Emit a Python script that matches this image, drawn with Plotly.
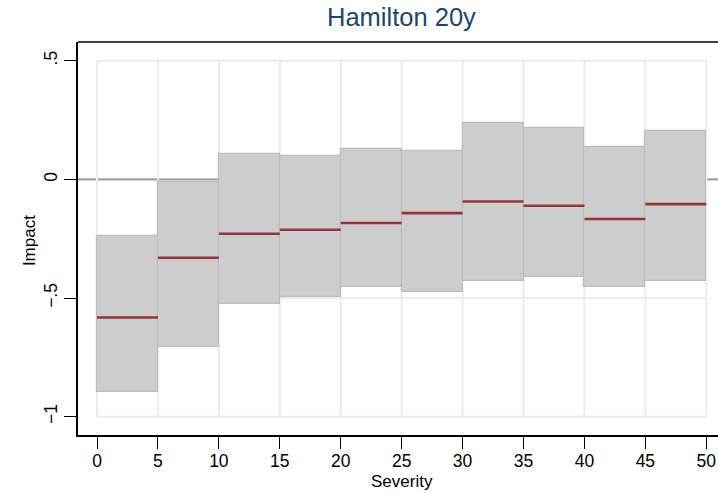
import plotly.graph_objects as go

# Severity bins (left edges, width 5) and impact estimates
bin_start = [0, 5, 10, 15, 20, 25, 30, 35, 40, 45]
bin_width = 5
lower = [-0.896, -0.708, -0.525, -0.496, -0.454, -0.473, -0.428, -0.412, -0.454, -0.428]
upper = [-0.239, -0.011, 0.108, 0.098, 0.129, 0.119, 0.236, 0.216, 0.138, 0.204]
median = [-0.582, -0.330, -0.229, -0.212, -0.184, -0.142, -0.093, -0.111, -0.167, -0.104]

x_ticks = [0, 5, 10, 15, 20, 25, 30, 35, 40, 45, 50]
y_ticks = [-1, -0.5, 0, 0.5]
y_ticktext = ["\u22121", "\u2212.5", "0", ".5"]

FONT = "Liberation Sans, Arial, sans-serif"

centers = [s + bin_width / 2 for s in bin_start]
heights = [u - l for u, l in zip(upper, lower)]

fig = go.Figure()

# interval boxes
fig.add_trace(go.Bar(
    x=centers, y=heights, base=lower, width=bin_width,
    marker=dict(color="#cdcdcd", line=dict(color="#bdbdbd", width=1.2)),
    hoverinfo="skip", showlegend=False,
))

# median segments
mx, my = [], []
for s, m in zip(bin_start, median):
    mx += [s, s + bin_width, None]
    my += [m, m, None]
fig.add_trace(go.Scatter(
    x=mx, y=my, mode="lines",
    line=dict(color="#983339", width=2.6),
    hoverinfo="skip", showlegend=False,
))

shapes = []
grid_style = dict(color="#ececec", width=2)
# grid box limited to the tick range
for xv in x_ticks:
    shapes.append(dict(type="line", xref="x", yref="y", x0=xv, x1=xv,
                       y0=min(y_ticks), y1=max(y_ticks), line=grid_style, layer="below"))
for yv in y_ticks:
    if yv == 0:
        continue
    shapes.append(dict(type="line", xref="x", yref="y", x0=min(x_ticks), x1=max(x_ticks),
                       y0=yv, y1=yv, line=grid_style, layer="below"))
# reference line at zero
shapes.append(dict(type="line", xref="paper", yref="y", x0=0, x1=1, y0=0, y1=0,
                   line=dict(color="#a3a3a3", width=2.2), layer="below"))
# top frame line
shapes.append(dict(type="line", xref="paper", yref="paper", x0=0, x1=1, y0=1, y1=1,
                   line=dict(color="#000000", width=1.5)))

fig.update_layout(
    width=718, height=493,
    margin=dict(l=78, r=0, t=42, b=58),
    paper_bgcolor="white", plot_bgcolor="white",
    font=dict(family=FONT, size=17, color="#000000"),
    shapes=shapes,
    bargap=0,
    annotations=[
        dict(text="Hamilton 20y", xref="paper", yref="paper", x=0.505, y=1,
             yshift=25, xanchor="center", yanchor="middle", showarrow=False,
             font=dict(family=FONT, size=25.5, color="#1a476f")),
        dict(text="Severity", xref="x", yref="paper", x=25, y=0, yshift=-46,
             xanchor="center", yanchor="middle", showarrow=False,
             font=dict(family=FONT, size=17)),
        dict(text="Impact", xref="paper", yref="y", x=0, xshift=-49, y=-0.26,
             textangle=-90, xanchor="center", yanchor="middle", showarrow=False,
             font=dict(family=FONT, size=17)),
    ],
)

fig.update_xaxes(
    range=[-1.559, 50.96], tickvals=x_ticks, ticks="outside", ticklen=12,
    tickwidth=1.3, tickcolor="#000", showline=True, linecolor="#000", linewidth=1.5,
    showgrid=False, zeroline=False, tickfont=dict(family=FONT, size=17.5),
    ticklabelstandoff=-3,
)
fig.update_yaxes(
    range=[-1.077, 0.579], tickvals=y_ticks, ticktext=y_ticktext, tickangle=-90,
    ticks="outside", ticklen=12, tickwidth=1.3, tickcolor="#000",
    showline=True, linecolor="#000", linewidth=1.5,
    showgrid=False, zeroline=False, tickfont=dict(family=FONT, size=17.5),
)

fig.write_html("out.html")
